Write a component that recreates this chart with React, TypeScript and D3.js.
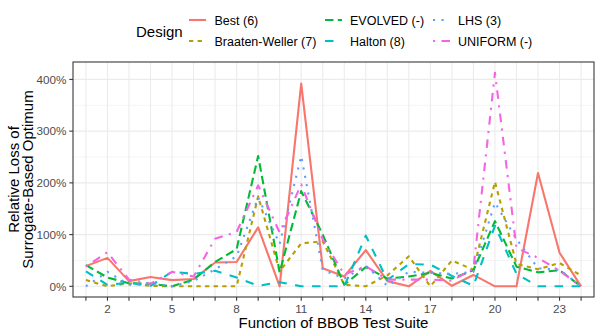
import { useEffect, useRef } from "react";
import * as d3 from "d3";

const fns = d3.range(1, 25);
const tickLabels = [2, 5, 8, 11, 14, 17, 20, 23];
const yTicks = [0, 1, 2, 3, 4];
const yMinor = [0.5, 1.5, 2.5, 3.5];

const designs = ["Best (6)", "Braaten-Weller (7)", "EVOLVED (-)", "Halton (8)", "LHS (3)", "UNIFORM (-)"];
const colors = ["#F8766D", "#B79F00", "#00BA38", "#00BFC4", "#619CFF", "#F564E3"];
const dashes = ["", "4.3,4.3", "8.5,4.3", "8.5,8.5", "2.1,6.4", "2.1,6.4,8.5,6.4"];

const best = [0.39, 0.55, 0.1, 0.18, 0.12, 0.14, 0.46, 0.47, 1.14, 0, 3.92, 0.35, 0.19, 0.7, 0.1, 0, 0.3, 0.01, 0.22, 0, 0, 2.19, 0.65, 0];
const braaten = [0.12, 0, 0.06, 0.01, 0, 0, 0, 0, 1.74, 0.29, 0.83, 0.87, 0.03, 0, 0.21, 0.58, 0, 0.5, 0.32, 2.02, 0.43, 0.33, 0.45, 0.21];
const evolved = [0.41, 0.17, 0.06, 0.05, 0, 0.13, 0.47, 0.72, 2.52, 0.27, 1.84, 1.0, 0.03, 0.37, 0.15, 0.19, 0.26, 0.15, 0.31, 1.26, 0.38, 0.27, 0.31, 0];
const halton = [0.29, 0.03, 0.07, 0.01, 0.28, 0.24, 0.3, 0.17, 0.01, 0.08, 0, 0, 0, 0.98, 0.12, 0.43, 0.42, 0.2, 0.01, 1.17, 0.24, 0, 0, 0];
const lhs = [0, 0.28, 0.03, 0.06, 0, 0.1, 0.33, 0.58, 1.72, 0.82, 2.52, 0.32, 0.15, 0.4, 0.01, 0.28, 0.26, 0.24, 0.28, 1.62, 0.91, 0.35, 0.32, 0];
const uniform = [0.38, 0.66, 0.13, 0.05, 0.28, 0.19, 0.92, 1.05, 1.95, 1.04, 1.97, 0.91, 0.23, 0.39, 0.13, 0.13, 0.13, 0.11, 0.34, 4.13, 0.74, 0.55, 0.3, 0];

const series = [best, braaten, evolved, halton, lhs, uniform];

export default function App() {
  const svgRef = useRef<SVGSVGElement>(null);

  useEffect(() => {
    const svg = d3.select(svgRef.current);
    svg.selectAll("*").remove();

    const width = 598;
    const height = 334;
    const panel = { left: 73, right: 594, top: 62, bottom: 297 };
    const font = "'Liberation Sans', Arial, Helvetica, sans-serif";

    svg.attr("width", width).attr("height", height).style("font-family", font);

    const x = d3.scaleLinear().domain([0.4, 24.6]).range([panel.left, panel.right]);
    const maxV = d3.max(series, (s) => d3.max(s)) as number;
    const pad = maxV * 0.05;
    const y = d3.scaleLinear().domain([-pad, maxV + pad]).range([panel.bottom, panel.top]);

    svg.append("rect").attr("width", width).attr("height", height).attr("fill", "white");

    // grid
    const grid = svg.append("g");
    grid.selectAll(".minor")
      .data(yMinor)
      .enter()
      .append("line")
      .attr("x1", panel.left).attr("x2", panel.right)
      .attr("y1", (d) => y(d)).attr("y2", (d) => y(d))
      .attr("stroke", "#EBEBEB").attr("stroke-width", 0.55);
    grid.selectAll(".majorY")
      .data(yTicks)
      .enter()
      .append("line")
      .attr("x1", panel.left).attr("x2", panel.right)
      .attr("y1", (d) => y(d)).attr("y2", (d) => y(d))
      .attr("stroke", "#EBEBEB").attr("stroke-width", 1.07);
    grid.selectAll(".majorX")
      .data(fns)
      .enter()
      .append("line")
      .attr("x1", (d) => x(d)).attr("x2", (d) => x(d))
      .attr("y1", panel.top).attr("y2", panel.bottom)
      .attr("stroke", "#EBEBEB").attr("stroke-width", 1.07);

    // lines
    const line = d3.line<number>().x((d, i) => x(fns[i])).y((d) => y(d));
    series.forEach((s, i) => {
      svg.append("path")
        .datum(s)
        .attr("d", line)
        .attr("fill", "none")
        .attr("stroke", colors[i])
        .attr("stroke-width", 2.1)
        .attr("stroke-dasharray", dashes[i] || null)
        .attr("stroke-linejoin", "round");
    });

    // panel border
    svg.append("rect")
      .attr("x", panel.left).attr("y", panel.top)
      .attr("width", panel.right - panel.left).attr("height", panel.bottom - panel.top)
      .attr("fill", "none").attr("stroke", "#333333").attr("stroke-width", 1.07);

    // y axis
    const yAxis = svg.append("g");
    yAxis.selectAll("line")
      .data(yTicks)
      .enter()
      .append("line")
      .attr("x1", panel.left - 3.7).attr("x2", panel.left)
      .attr("y1", (d) => y(d)).attr("y2", (d) => y(d))
      .attr("stroke", "#333333").attr("stroke-width", 1.07);
    yAxis.selectAll("text")
      .data(yTicks)
      .enter()
      .append("text")
      .attr("x", panel.left - 6.5)
      .attr("y", (d) => y(d) + 4.2)
      .attr("text-anchor", "end")
      .attr("font-size", 11.7)
      .attr("fill", "#4D4D4D")
      .text((d) => d3.format(".0%")(d));

    // x axis
    const xAxis = svg.append("g");
    xAxis.selectAll("line")
      .data(fns)
      .enter()
      .append("line")
      .attr("x1", (d) => x(d)).attr("x2", (d) => x(d))
      .attr("y1", panel.bottom).attr("y2", panel.bottom + 3.7)
      .attr("stroke", "#333333").attr("stroke-width", 1.07);
    xAxis.selectAll("text")
      .data(tickLabels)
      .enter()
      .append("text")
      .attr("x", (d) => x(d))
      .attr("y", panel.bottom + 16)
      .attr("text-anchor", "middle")
      .attr("font-size", 11.7)
      .attr("fill", "#4D4D4D")
      .text((d) => d);

    svg.append("text")
      .attr("x", (panel.left + panel.right) / 2)
      .attr("y", 328)
      .attr("text-anchor", "middle")
      .attr("font-size", 15)
      .attr("fill", "black")
      .text("Function of BBOB Test Suite");

    const yc = (panel.top + panel.bottom) / 2;
    ["Relative Loss of", "Surrogate-Based Optimum"].forEach((t, i) => {
      svg.append("text")
        .attr("transform", `translate(${18.5 + i * 14},${yc}) rotate(-90)`)
        .attr("text-anchor", "middle")
        .attr("font-size", 15)
        .attr("fill", "black")
        .text(t);
    });

    // legend
    const legend = svg.append("g");
    legend.append("text")
      .attr("x", 136).attr("y", 37)
      .attr("font-size", 15)
      .text("Design");
    const colX = [189, 325, 433];
    const textX = [214.5, 350, 458];
    const rowY = [20, 41];
    designs.forEach((name, i) => {
      const c = Math.floor(i / 2);
      const r = i % 2;
      legend.append("line")
        .attr("x1", colX[c]).attr("x2", colX[c] + 17)
        .attr("y1", rowY[r]).attr("y2", rowY[r])
        .attr("stroke", colors[i])
        .attr("stroke-width", 2.1)
        .attr("stroke-dasharray", dashes[i] || null);
      legend.append("text")
        .attr("x", textX[c]).attr("y", rowY[r] + 4.5)
        .attr("font-size", 12.5)
        .text(name);
    });
  }, []);

  return (
    <div style={{ position: "absolute", left: 0, top: 0 }}>
      <svg ref={svgRef} style={{ display: "block" }} />
    </div>
  );
}
